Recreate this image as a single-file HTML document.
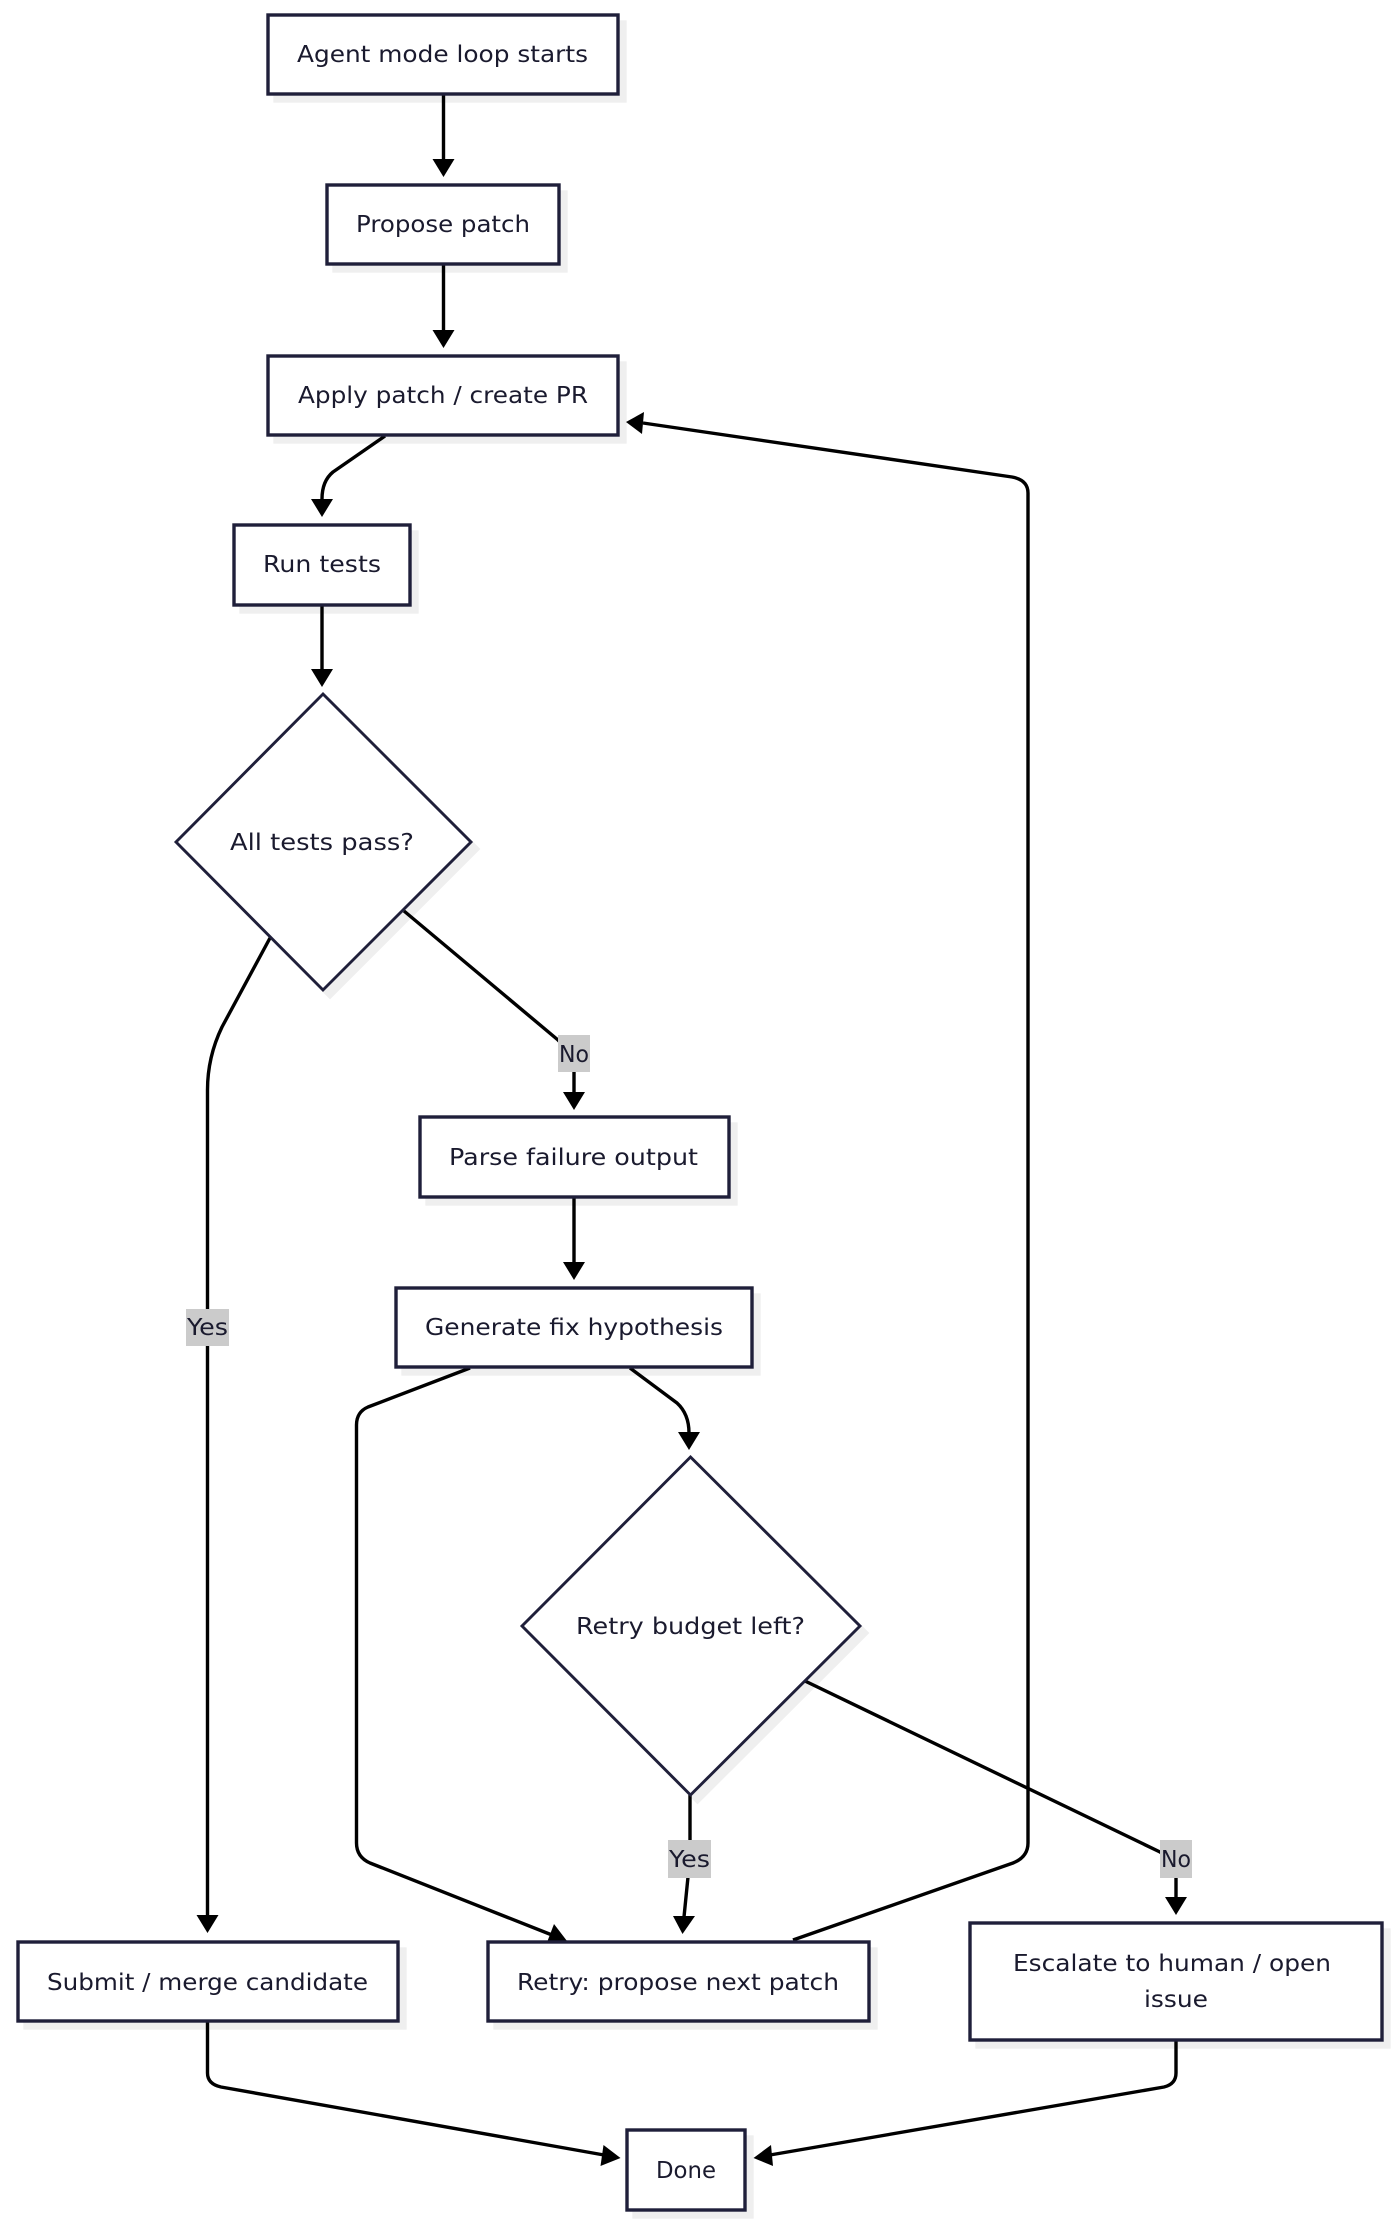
<!DOCTYPE html>
<html lang="en">
<head>
<meta charset="utf-8">
<title>Agent mode loop flowchart</title>
<style>
html,body{margin:0;padding:0;background:#fff;width:1400px;height:2225px;overflow:hidden}
svg{display:block}
text{font-family:"DejaVu Sans","Liberation Sans",sans-serif;font-size:23.2px;fill:#1a1a2e}
.sh{fill:#efefef;stroke:#efefef;stroke-width:3.4;stroke-linejoin:miter}
.n{fill:#fff;stroke:#1f1f3a;stroke-width:3.4;stroke-linejoin:miter}
.d{fill:#fff;stroke:#1f1f3a;stroke-width:2.9;stroke-linejoin:miter}
.e{fill:none;stroke:#000;stroke-width:3.4;stroke-linejoin:round}
.h{fill:#000;stroke:none}
.lb{fill:#cbcbcb}
</style>
</head>
<body>
<svg width="1400" height="2225" viewBox="0 0 1400 2225" xmlns="http://www.w3.org/2000/svg">
<rect width="1400" height="2225" fill="#fff"/>
<g transform="translate(7,7)">
<rect class="sh" x="268" y="15" width="350" height="79"/>
<rect class="sh" x="327" y="185" width="232" height="79"/>
<rect class="sh" x="268" y="356" width="350" height="79"/>
<rect class="sh" x="234" y="525" width="176" height="80"/>
<polygon class="sh" points="323,694 471,842 323,990 176,842"/>
<rect class="sh" x="420" y="1117" width="309" height="80"/>
<rect class="sh" x="396" y="1288" width="356" height="79"/>
<polygon class="sh" points="690.5,1457 860,1626 690.5,1795 522,1626"/>
<rect class="sh" x="18" y="1942" width="380" height="79"/>
<rect class="sh" x="488" y="1942" width="381" height="79"/>
<rect class="sh" x="970" y="1923" width="412" height="117"/>
<rect class="sh" x="627" y="2130" width="118" height="80"/>
</g>
<path class="e" d="M443.5 95V160"/>
<polygon class="h" points="432.5,159 454.5,159 443.5,177"/>
<path class="e" d="M443.5 265V330"/>
<polygon class="h" points="432.5,330 454.5,330 443.5,348"/>
<path class="e" d="M385 436L333 472Q322 481 322 499"/>
<polygon class="h" points="311,499 333,499 322,517"/>
<path class="e" d="M322 606V670"/>
<polygon class="h" points="311,669 333,669 322,687"/>
<path class="e" d="M270 938L222 1027Q207.5 1057 207.5 1090V1916"/>
<polygon class="h" points="196.5,1915 218.5,1915 207.5,1933"/>
<path class="e" d="M404 911L558 1040L574 1056V1093"/>
<polygon class="h" points="563,1092 585,1092 574,1110"/>
<path class="e" d="M574 1198V1263"/>
<polygon class="h" points="563,1262 585,1262 574,1280"/>
<path class="e" d="M470 1368L368 1407Q356.5 1412 356.5 1425V1843Q356.5 1857 370 1863L552 1935"/>
<polygon class="h" points="554,1924 546,1945 567,1941"/>
<path class="e" d="M630 1368L677 1403Q689 1414 689 1433"/>
<polygon class="h" points="678,1432 700,1432 689,1450"/>
<path class="e" d="M690 1795V1840L688 1877L684 1917"/>
<polygon class="h" points="673,1916 695,1916 682.5,1934"/>
<path class="e" d="M805 1681L1160 1852L1176 1862V1898"/>
<polygon class="h" points="1165,1897 1187,1897 1176,1915"/>
<path class="e" d="M793 1940L1013 1863Q1028 1857 1028 1843V493Q1028 480 1012 477L643 423"/>
<polygon class="h" points="644,412 642,434 626,422"/>
<path class="e" d="M207.5 2022V2073Q207.5 2084 221 2087L604 2155"/>
<polygon class="h" points="603.5,2145 600.5,2166 620.5,2158"/>
<path class="e" d="M1176 2041V2073Q1176 2084 1164 2087L770 2155"/>
<polygon class="h" points="771,2145 773,2166 753.5,2158"/>
<rect class="n" x="268" y="15" width="350" height="79"/>
<rect class="n" x="327" y="185" width="232" height="79"/>
<rect class="n" x="268" y="356" width="350" height="79"/>
<rect class="n" x="234" y="525" width="176" height="80"/>
<polygon class="d" points="323,694 471,842 323,990 176,842"/>
<rect class="n" x="420" y="1117" width="309" height="80"/>
<rect class="n" x="396" y="1288" width="356" height="79"/>
<polygon class="d" points="690.5,1457 860,1626 690.5,1795 522,1626"/>
<rect class="n" x="18" y="1942" width="380" height="79"/>
<rect class="n" x="488" y="1942" width="381" height="79"/>
<rect class="n" x="970" y="1923" width="412" height="117"/>
<rect class="n" x="627" y="2130" width="118" height="80"/>
<rect class="lb" x="186" y="1309" width="43" height="37"/>
<rect class="lb" x="558" y="1035" width="32" height="37"/>
<rect class="lb" x="668" y="1840" width="43" height="38"/>
<rect class="lb" x="1160" y="1840" width="32" height="38"/>
<text x="297" y="62" textLength="291" lengthAdjust="spacingAndGlyphs">Agent mode loop starts</text>
<text x="356" y="232" textLength="174" lengthAdjust="spacingAndGlyphs">Propose patch</text>
<text x="298" y="403" textLength="290" lengthAdjust="spacingAndGlyphs">Apply patch / create PR</text>
<text x="263" y="572" textLength="118" lengthAdjust="spacingAndGlyphs">Run tests</text>
<text x="230" y="850" textLength="184" lengthAdjust="spacingAndGlyphs">All tests pass?</text>
<text x="449" y="1165" textLength="249" lengthAdjust="spacingAndGlyphs">Parse failure output</text>
<text x="425" y="1335" textLength="298" lengthAdjust="spacingAndGlyphs">Generate fix hypothesis</text>
<text x="576" y="1634" textLength="229" lengthAdjust="spacingAndGlyphs">Retry budget left?</text>
<text x="47" y="1990" textLength="321" lengthAdjust="spacingAndGlyphs">Submit / merge candidate</text>
<text x="517" y="1990" textLength="322" lengthAdjust="spacingAndGlyphs">Retry: propose next patch</text>
<text x="1013" y="1971" textLength="318" lengthAdjust="spacingAndGlyphs">Escalate to human / open</text>
<text x="1144" y="2007" textLength="64" lengthAdjust="spacingAndGlyphs">issue</text>
<text x="656" y="2178" textLength="60" lengthAdjust="spacingAndGlyphs">Done</text>
<text x="187" y="1335" textLength="41" lengthAdjust="spacingAndGlyphs">Yes</text>
<text x="559" y="1062" textLength="30" lengthAdjust="spacingAndGlyphs">No</text>
<text x="669" y="1867" textLength="41" lengthAdjust="spacingAndGlyphs">Yes</text>
<text x="1161" y="1867" textLength="30" lengthAdjust="spacingAndGlyphs">No</text>
</svg>
</body>
</html>
